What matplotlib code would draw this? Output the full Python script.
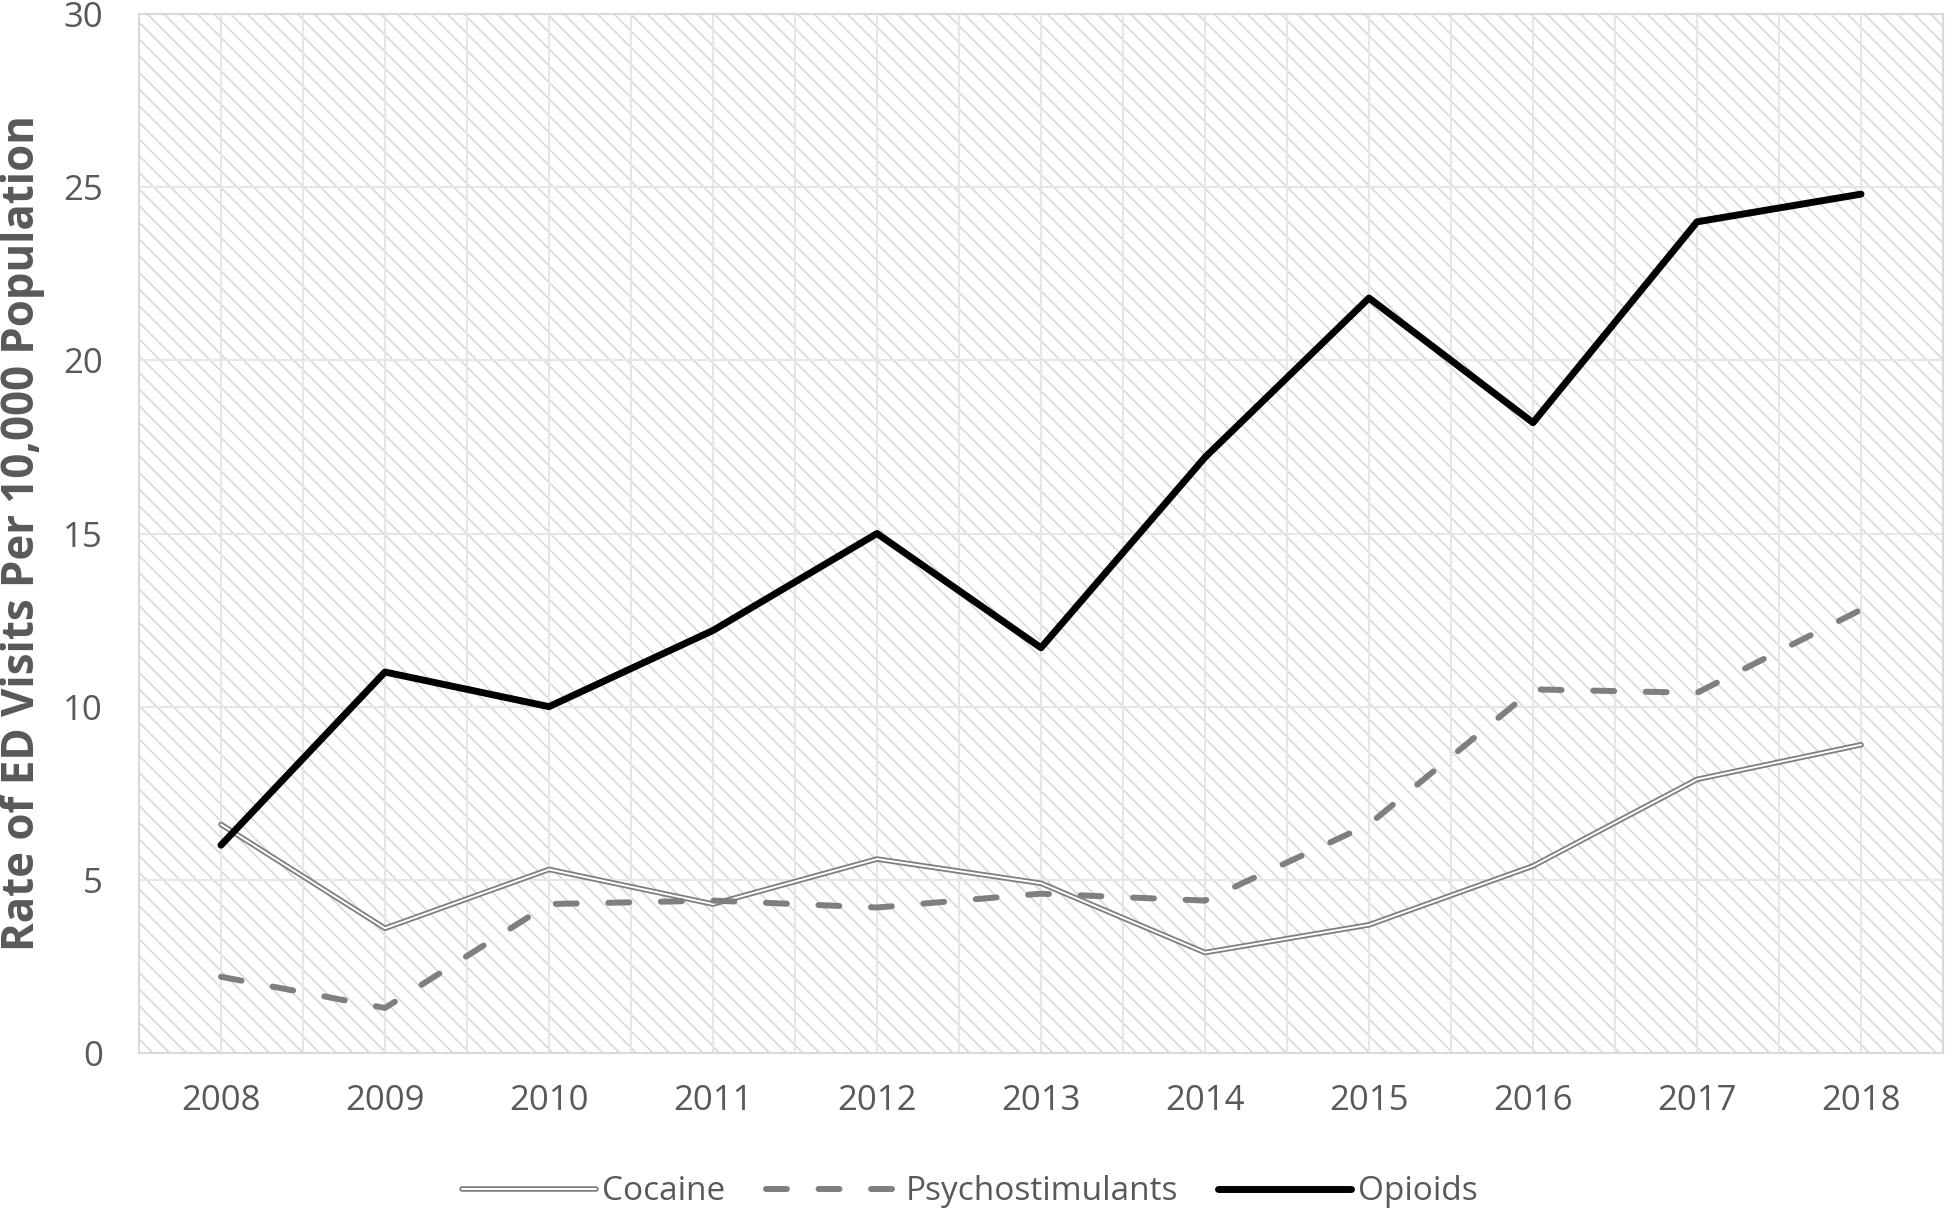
import matplotlib
matplotlib.use("Agg")
import matplotlib.pyplot as plt
import matplotlib.patheffects as pe
from matplotlib.patches import Rectangle
import numpy as np

years = [2008, 2009, 2010, 2011, 2012, 2013, 2014, 2015, 2016, 2017, 2018]
cocaine = [6.6, 3.6, 5.3, 4.3, 5.6, 4.9, 2.9, 3.7, 5.4, 7.9, 8.9]
psychostimulants = [2.2, 1.3, 4.3, 4.4, 4.2, 4.6, 4.4, 6.6, 10.5, 10.4, 12.8]
opioids = [6.0, 11.0, 10.0, 12.2, 15.0, 11.7, 17.2, 21.8, 18.2, 24.0, 24.8]
yticks = [0, 5, 10, 15, 20, 25, 30]

plt.rcParams['font.family'] = ['Open Sans', 'DejaVu Sans']
plt.rcParams['hatch.color'] = '#d6d6d6'
plt.rcParams['hatch.linewidth'] = 1.1

txt = '#595959'
grey = '#7f7f7f'

fig = plt.figure(figsize=(19.52, 12.11), dpi=100)
ax = fig.add_axes([0.0712, 0.1305, 0.9242, 0.8579])

# hatched plot area
bg = Rectangle((0, 0), 1, 1, transform=ax.transAxes, facecolor='white',
               edgecolor='#d6d6d6', linewidth=0, hatch='\\\\', zorder=0)
ax.add_patch(bg)

ax.set_xlim(2007.5, 2018.5)
ax.set_ylim(0, 30)
ax.set_xticks(years)
ax.set_xticks(np.arange(2007.5, 2018.6, 0.5), minor=True)
ax.set_yticks(yticks)
ax.grid(True, which='both', axis='x', color='#e6e6e6', linewidth=1.5, zorder=1)
ax.grid(True, which='major', axis='y', color='#e6e6e6', linewidth=1.5, zorder=1)
ax.set_axisbelow(True)
ax.tick_params(which='both', length=0)
ax.tick_params(axis='x', pad=22, labelsize=25, labelcolor=txt)
ax.tick_params(axis='y', pad=26, labelsize=25, labelcolor=txt)
for s in ax.spines.values():
    s.set_color('#d9d9d9')
    s.set_linewidth(1.5)

ax.plot(years, cocaine, color='white', linewidth=1.4, solid_capstyle='round',
        label='Cocaine', zorder=3,
        path_effects=[pe.Stroke(linewidth=4.0, foreground=grey), pe.Normal()])
ax.plot(years, psychostimulants, color=grey, linewidth=4.3,
        linestyle=(0, (3.5, 5.3)), dash_capstyle='round',
        label='Psychostimulants', zorder=3)
ax.plot(years, opioids, color='black', linewidth=5.0, solid_capstyle='round',
        label='Opioids', zorder=4)

ax.set_ylabel('Rate of ED Visits Per 10,000 Population', fontsize=31.5,
              fontweight='bold', color=txt)
ax.yaxis.set_label_coords(-0.052, 0.5)

leg = fig.legend(loc='center', bbox_to_anchor=(0.497, 1 - 1192 / 1211), ncol=3,
                 frameon=False, fontsize=24, handlelength=4.0, handletextpad=0.2,
                 columnspacing=1.2, labelcolor=txt)

fig.savefig('out.png', dpi=100)
